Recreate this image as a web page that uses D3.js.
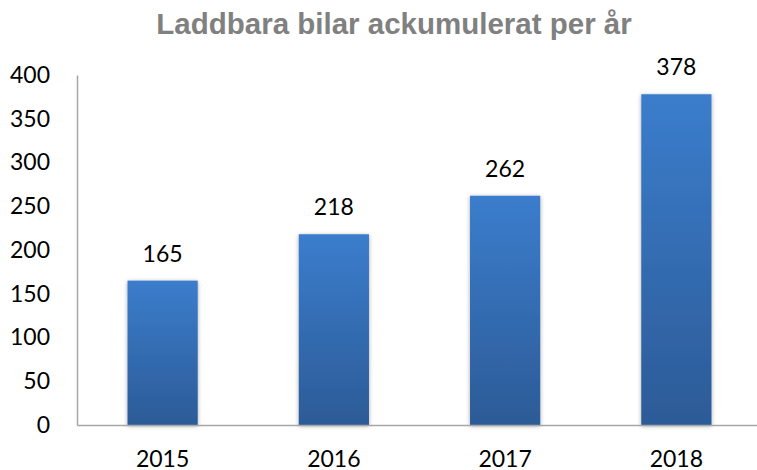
<!DOCTYPE html>
<html><head><meta charset="utf-8">
<script src="https://cdn.jsdelivr.net/npm/d3@7"></script>
<style>html,body{margin:0;padding:0;background:#fff;}</style>
</head><body>
<svg id="c" width="757" height="470"></svg>
<script>
const categories = ["2015","2016","2017","2018"];
const values = [165, 218, 262, 378];
const yTicks = [0,50,100,150,200,250,300,350,400];
const title = "Laddbara bilar ackumulerat per år";

const svg = d3.select("#c");
const defs = svg.append("defs");
const grad = defs.append("linearGradient").attr("id","g").attr("x1",0).attr("y1",0).attr("x2",0).attr("y2",1);
grad.append("stop").attr("offset","0%").attr("stop-color","#3b7dcc");
grad.append("stop").attr("offset","100%").attr("stop-color","#2c5b97");
const f = defs.append("filter").attr("id","sh").attr("x","-20%").attr("y","-5%").attr("width","140%").attr("height","110%");
f.append("feDropShadow").attr("dx",0).attr("dy",1).attr("stdDeviation",2).attr("flood-color","#000").attr("flood-opacity",0.35);

const x = d3.scaleBand().domain(categories).range([77, 762]).paddingInner(0.59).paddingOuter(0.295);
const y = d3.scaleLinear().domain([0,400]).range([425, 75]);

svg.append("text").attr("x", 394).attr("y", 34).attr("text-anchor","middle")
  .attr("font-family","Liberation Sans, Arial, sans-serif").attr("font-weight","bold")
  .attr("font-size",29.5).attr("fill","#808080").text(title);

const font = "Lato, sans-serif";
// y axis
const ya = svg.append("g").attr("transform","translate(77,0)")
  .call(d3.axisLeft(y).tickValues(yTicks).tickSize(0).tickPadding(27));
ya.select(".domain").attr("stroke","#a6a6a6").attr("stroke-width",1.5);
ya.selectAll("text").attr("font-family",font).attr("font-size",23).attr("fill","#000");

svg.selectAll("rect.bar").data(values).join("rect").attr("class","bar")
  .attr("x",(d,i)=>x(categories[i])).attr("width",x.bandwidth())
  .attr("y",d=>y(d)).attr("height",d=>y(0)-y(d))
  .attr("fill","url(#g)").attr("filter","url(#sh)");

// x axis
const xa = svg.append("g").attr("transform","translate(0,425)")
  .call(d3.axisBottom(x).tickSize(0).tickPadding(26));
xa.select(".domain").attr("stroke","#a6a6a6").attr("stroke-width",1.5);
xa.selectAll("text").attr("font-family",font).attr("font-size",23).attr("fill","#000");

svg.selectAll("text.val").data(values).join("text").attr("class","val")
  .attr("x",(d,i)=>x(categories[i])+x.bandwidth()/2).attr("y",d=>y(d)-19)
  .attr("text-anchor","middle").attr("font-family",font).attr("font-size",23).attr("fill","#000")
  .text(d=>d);
</script>
</body></html>
